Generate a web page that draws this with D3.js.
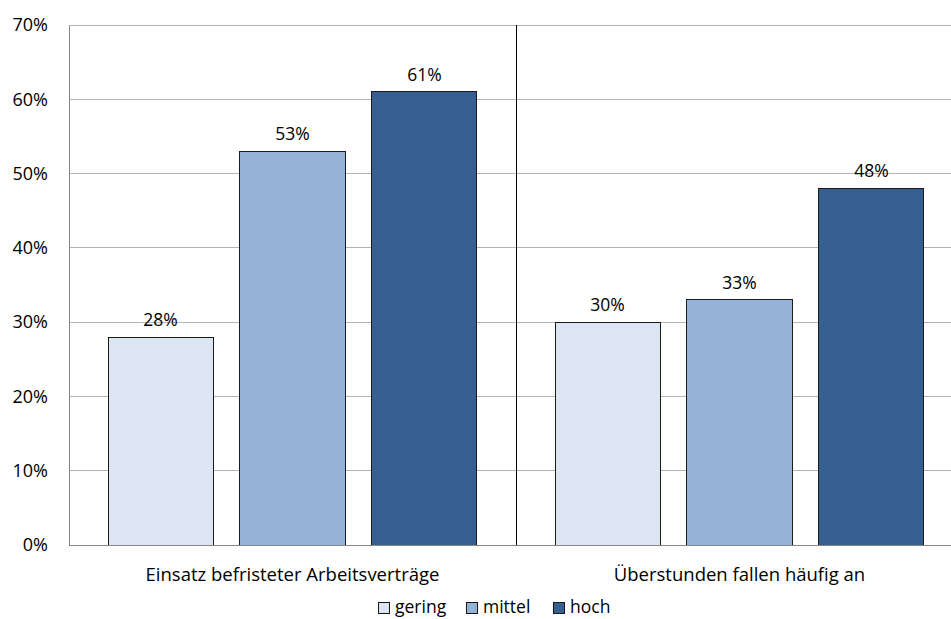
<!DOCTYPE html>
<html><head><meta charset="utf-8">
<script src="https://cdn.jsdelivr.net/npm/d3@7"></script>
<style>body{margin:0;background:#fff}svg{display:block;font-family:"Open Sans",sans-serif}</style>
</head><body><svg id="c" width="951" height="619"></svg>
<script>
const categories = ["Einsatz befristeter Arbeitsverträge", "Überstunden fallen häufig an"];
const seriesNames = ["gering", "mittel", "hoch"];
const gering = [28, 30];
const mittel = [53, 33];
const hoch = [61, 48];
const yTicks = [0, 10, 20, 30, 40, 50, 60, 70];
const colors = ["#dce6f2", "#95b3d7", "#376092"];

const series = [gering, mittel, hoch];
const svg = d3.select("#c");
const FONT = "'Open Sans',sans-serif";
const m = {l: 69, t: 25, r: 963, b: 545};
const x0 = d3.scaleBand().domain(categories).range([m.l, m.r]).paddingInner(0).paddingOuter(0);
const x1 = d3.scaleBand().domain(seriesNames).range([0, x0.bandwidth()]).paddingInner(0.2045).paddingOuter(0.2955);
const y = d3.scaleLinear().domain([0, 70]).range([m.b, m.t]);

// gridlines
svg.append("g").selectAll("line").data(yTicks.filter(d => d > 0)).join("line")
  .attr("x1", m.l).attr("x2", m.r).attr("y1", d => y(d)).attr("y2", d => y(d))
  .attr("stroke", "#b3b3b3").attr("stroke-width", 1).attr("shape-rendering", "crispEdges");

// separator
svg.append("line").attr("x1", x0(categories[1])).attr("x2", x0(categories[1]))
  .attr("y1", m.t).attr("y2", m.b).attr("stroke", "#000").attr("stroke-width", 1).attr("shape-rendering", "crispEdges");

// bars
categories.forEach((c, ci) => {
  const g = svg.append("g").attr("transform", `translate(${x0(c)},0)`);
  seriesNames.forEach((s, si) => {
    const v = series[si][ci];
    g.append("rect").attr("x", x1(s)).attr("y", y(v)).attr("width", x1.bandwidth()).attr("height", y(0) - y(v))
      .attr("fill", colors[si]).attr("stroke", "#1a1a1a").attr("stroke-width", 1).attr("shape-rendering", "crispEdges");
    g.append("text").attr("x", x1(s) + x1.bandwidth() / 2).attr("y", y(v) - 11)
      .attr("text-anchor", "middle").attr("font-size", 17.5).attr("fill", "#000").text(v + "%");
  });
});

// y axis
const yAxis = d3.axisLeft(y).tickValues(yTicks).tickFormat(d => d + "%").tickSize(0).tickPadding(21);
const ya = svg.append("g").attr("transform", `translate(${m.l},0)`).call(yAxis);
ya.select(".domain").attr("stroke", "#868686").attr("shape-rendering", "crispEdges");
ya.selectAll("text").attr("font-size", 18).attr("fill", "#000").attr("font-family", FONT);

// x axis
const xAxis = d3.axisBottom(x0).tickSize(0).tickPadding(23);
const xa = svg.append("g").attr("transform", `translate(0,${m.b})`).call(xAxis);
xa.select(".domain").attr("stroke", "#868686").attr("shape-rendering", "crispEdges");
xa.selectAll("text").attr("font-size", 18.5).attr("fill", "#000").attr("font-family", FONT);

// legend
const leg = svg.append("g");
const legX = [378, 466, 553];
seriesNames.forEach((s, i) => {
  leg.append("rect").attr("x", legX[i]).attr("y", 602).attr("width", 11).attr("height", 11)
    .attr("fill", colors[i]).attr("stroke", "#1a1a1a").attr("stroke-width", 1).attr("shape-rendering", "crispEdges");
  leg.append("text").attr("x", legX[i] + 17).attr("y", 613).attr("font-size", 17.5).attr("fill", "#000").text(s);
});
</script></body></html>
